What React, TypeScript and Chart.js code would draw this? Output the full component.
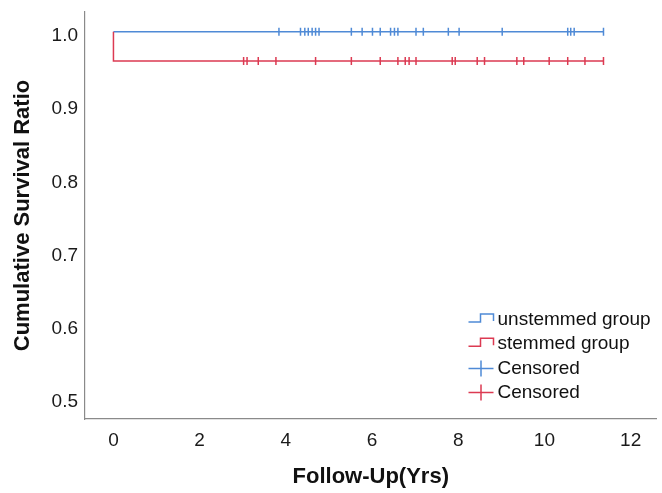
import { useEffect, useRef } from "react";
import { Chart, registerables } from "chart.js";

Chart.register(...registerables);

// ---- data ----
const unstemmedCurveX = [0, 11.37];
const unstemmedCurveY = [1.0, 1.0];
const stemmedCurveX = [0, 0, 11.37];
const stemmedCurveY = [1.0, 0.96, 0.96];

const unstemmedCensorTimes = [
  3.84, 4.34, 4.44, 4.52, 4.61, 4.69, 4.77, 5.52, 5.77, 6.01, 6.19, 6.43, 6.52,
  6.6, 7.02, 7.19, 7.77, 8.02, 9.02, 10.54, 10.61, 10.69, 11.37,
];
const unstemmedCensorSurvival = 1.0;
const stemmedCensorTimes = [
  3.02, 3.1, 3.36, 3.77, 4.69, 5.52, 6.19, 6.6, 6.77, 6.86, 7.02, 7.86, 7.93,
  8.44, 8.61, 9.36, 9.52, 10.11, 10.54, 10.94, 11.37,
];
const stemmedCensorSurvival = 0.96;

const xTicks = [0, 2, 4, 6, 8, 10, 12];
const yTicks = [0.5, 0.6, 0.7, 0.8, 0.9, 1.0];

const legendLabels = ["unstemmed group", "stemmed group", "Censored", "Censored"];
const legendKinds = ["step", "step", "plus", "plus"];

const BLUE = "#4f8ad6";
const RED = "#dc3a52";
const FONT = '"Liberation Sans", Arial, sans-serif';

const legendColors = [BLUE, RED, BLUE, RED];

const legendPlugin = {
  id: "kmLegend",
  afterDraw(chart: any) {
    const { ctx, chartArea } = chart;
    const x0 = chartArea.right - 188;
    const y0 = chartArea.bottom - 99;
    const gap = 24.2;
    ctx.save();
    ctx.font = "19px " + FONT;
    ctx.textBaseline = "middle";
    ctx.textAlign = "left";
    legendLabels.forEach((label, i) => {
      const y = y0 + i * gap;
      ctx.strokeStyle = legendColors[i];
      ctx.lineWidth = 1.5;
      ctx.beginPath();
      if (legendKinds[i] === "step") {
        ctx.moveTo(x0, y + 2);
        ctx.lineTo(x0 + 12, y + 2);
        ctx.lineTo(x0 + 12, y - 6);
        ctx.lineTo(x0 + 25, y - 6);
        ctx.lineTo(x0 + 25, y + 1);
      } else {
        ctx.moveTo(x0, y);
        ctx.lineTo(x0 + 25, y);
        ctx.moveTo(x0 + 12.5, y - 8);
        ctx.lineTo(x0 + 12.5, y + 8);
      }
      ctx.stroke();
      ctx.fillStyle = "#111";
      ctx.fillText(label, x0 + 29, y);
    });
    ctx.restore();
  },
};

export default function App() {
  const ref = useRef<HTMLCanvasElement | null>(null);

  useEffect(() => {
    document.body.style.margin = "0";
    if (!ref.current) return;
    const chart = new Chart(ref.current, {
      type: "scatter",
      data: {
        datasets: [
          {
            label: "stemmed group",
            data: stemmedCurveX.map((x, i) => ({ x, y: stemmedCurveY[i] })),
            showLine: true,
            borderColor: RED,
            borderWidth: 1.5,
            pointRadius: 0,
            fill: false,
          },
          {
            label: "unstemmed group",
            data: unstemmedCurveX.map((x, i) => ({ x, y: unstemmedCurveY[i] })),
            showLine: true,
            borderColor: BLUE,
            borderWidth: 1.5,
            pointRadius: 0,
            fill: false,
          },
          {
            label: "Censored",
            data: unstemmedCensorTimes.map((x) => ({ x, y: unstemmedCensorSurvival })),
            showLine: false,
            pointStyle: "line",
            rotation: 90,
            pointRadius: 4,
            borderColor: BLUE,
            borderWidth: 1.5,
          },
          {
            label: "Censored",
            data: stemmedCensorTimes.map((x) => ({ x, y: stemmedCensorSurvival })),
            showLine: false,
            pointStyle: "line",
            rotation: 90,
            pointRadius: 4,
            borderColor: RED,
            borderWidth: 1.5,
          },
        ],
      },
      options: {
        responsive: false,
        animation: false,
        layout: { padding: { top: 12, right: 2, left: 0, bottom: 0 } },
        plugins: {
          legend: { display: false },
          tooltip: { enabled: false },
        },
        scales: {
          x: {
            type: "linear",
            min: -0.66,
            max: 12.6,
            grid: { display: false, drawTicks: false },
            border: { display: true, color: "#8a8a8a", width: 1.2 },
            ticks: {
              padding: 10,
              color: "#1a1a1a",
              font: { family: FONT, size: 19 },
              callback: (v: any) => String(v),
            },
            afterBuildTicks: (s: any) => {
              s.ticks = xTicks.map((v) => ({ value: v }));
            },
            afterFit: (s: any) => {
              s.height = 74;
              s.paddingLeft = 0;
              s.paddingRight = 0;
            },
            title: {
              display: true,
              text: "Follow-Up(Yrs)",
              color: "#111",
              font: { family: FONT, size: 22, weight: "bold" },
              padding: { top: 0, bottom: 3 },
            },
          },
          y: {
            type: "linear",
            min: 0.4716,
            max: 1.0269,
            grid: { display: false, drawTicks: false },
            border: { display: true, color: "#8a8a8a", width: 1.2 },
            ticks: {
              padding: 7,
              labelOffset: 4,
              color: "#1a1a1a",
              font: { family: FONT, size: 19 },
              callback: (v: any) => Number(v).toFixed(1),
            },
            afterBuildTicks: (s: any) => {
              s.ticks = yTicks.map((v) => ({ value: v }));
            },
            afterFit: (s: any) => {
              s.width = 85;
              s.paddingTop = 0;
              s.paddingBottom = 0;
            },
            title: {
              display: true,
              text: "Cumulative Survival Ratio",
              color: "#111",
              font: { family: FONT, size: 22, weight: "bold" },
              padding: { top: 10, bottom: 0 },
            },
          },
        },
      },
      plugins: [legendPlugin],
    });
    return () => chart.destroy();
  }, []);

  return (
    <div style={{ width: 662, height: 493 }}>
      <canvas ref={ref} width={662} height={493} />
    </div>
  );
}
